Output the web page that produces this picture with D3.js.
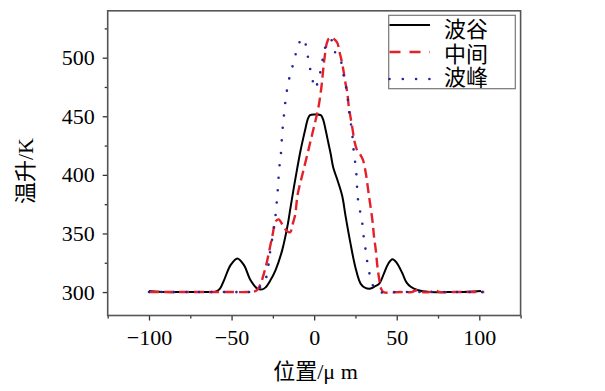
<!DOCTYPE html>
<html><head><meta charset="utf-8">
<script src="https://cdn.jsdelivr.net/npm/d3@7"></script>
<style>body{margin:0;background:#fff}svg{display:block}</style>
</head><body>
<svg id="c" width="605" height="391"></svg>
<script>
const seriesNames = ["波谷", "中间", "波峰"];
const xMajorTicks = [-100, -50, 0, 50, 100];
const xMinorTicks = [-125, -75, -25, 25, 75, 125];
const yMajorTicks = [300, 350, 400, 450, 500];
const yMinorTicks = [325, 375, 425, 475, 525];

const valleyX = [-100,-90,-80,-70,-62,-59.7,-57,-54.6,-50.6,-46.5,-42.5,-38.5,-34.4,-31.4,-29.4,-26.5,-23.3,-19.3,-16.2,-14.2,-12.2,-10.2,-8.2,-6.5,-5.5,-4,-2.5,0.7,4,5.5,7,8.5,10,11.6,14,17,19,22,25,28.2,31,34.2,37,39.3,42.3,44.8,47.4,50,53.4,56,58.5,62.5,70,80,90,97,101];
const valleyY = [301,300,300,300,300,300.3,303,310,323,328.7,323,310,303,302.3,304,310,319,336,356,373,390,406,421,432,438,447,451,451.5,451,447,438,428,418,406,396,382,365,341.5,321,307,303.5,303,305,307,316,324,328,325,316,308,304.5,301.7,300,300,300,300.5,301];

const middleX = [-100,-90,-80,-70,-60,-50,-40,-36,-34.4,-32.4,-30.4,-28.4,-26.5,-25,-23.5,-21.5,-19,-16.5,-14.5,-13,-11.5,-10,-7,-4,-2,-0.1,2.5,4.4,5.5,6.5,7.6,9,10.5,12,14,15.5,17,19,20,21,22,23.2,24.5,26,28,29.5,31.2,33.2,35.3,36.2,37.3,38.3,39.5,40.5,42,52,59,62,65,70,73,76,85,95,103];
const middleY = [300,300,300,300,300,300,300,300.5,302,307,316,327,340,350,360,362,357,352,351,358,366,383,401,418,430,441,457,475,490,502,512,516.5,517,516,512.7,504,495,478,470.8,458,449.5,439.5,428,421,417,413,402,382,361,348,336,322,310,303,300,300,300,301.5,300,300,301.5,300,300,300,300];

const peakX = [-100,-90,-80,-70,-60,-50,-40,-36,-34.4,-32.4,-30.4,-28.4,-27.4,-26.4,-25,-23.8,-22.9,-22.3,-21.7,-21.3,-20.3,-19.3,-18.5,-17.7,-16.7,-15.3,-13.2,-11.2,-8.2,-6.5,-4.5,-3.2,-1.5,0.5,2.9,4.5,5.9,7.5,9.5,11,12.6,14.5,16.7,18,19.7,20.7,21.5,22.7,23.5,24.1,25.2,25.8,26.2,27.2,28.8,29.6,30.8,31.8,33.2,34.2,36.8,39,45,55,65,75,85,95,103];
const peakY = [300,300,300,300,300,300,300,300.5,302,304.5,307.4,316,326,337,348.6,360,372.7,382.7,392.7,404,415,436,448,459,470,481,492,503,514.8,516.5,507,495.5,485,473.6,482.7,493.5,504,512,516,514,505,499,495,483.5,472,461,450,439.5,428,418,406.8,395.5,384,372.7,362.8,351.4,340,328.7,318.8,310,303,300,300,300,300,300,300,300,300];

const svg = d3.select("#c");
const L = 107.7, R = 520.6, T = 10.8, B = 315.5;
const x = d3.scaleLinear().domain([-125, 125]).range([L, R]);
const y = d3.scaleLinear().domain([280, 540]).range([B, T]);
const serif = "'Liberation Serif','Times New Roman',serif";
const cjk = "'Liberation Serif','Noto Sans CJK SC',serif";

function styleAxis(g){ g.select(".domain").remove(); g.selectAll("line").attr("stroke","#333").attr("stroke-width",1.3);
  g.selectAll("text").attr("font-family",serif).attr("font-size",22).attr("fill","#000"); }
svg.append("g").attr("transform",`translate(0,${B})`)
  .call(d3.axisBottom(x).tickValues(xMajorTicks).tickSize(5).tickSizeOuter(0).tickPadding(9)
    .tickFormat(d => d < 0 ? "\u2212" + Math.abs(d) : d)).call(styleAxis);
svg.append("g").attr("transform",`translate(0,${B})`)
  .call(d3.axisBottom(x).tickValues(xMinorTicks).tickSize(3).tickSizeOuter(0).tickFormat("")).call(styleAxis);
svg.append("g").attr("transform",`translate(${L},0)`)
  .call(d3.axisLeft(y).tickValues(yMajorTicks).tickSize(5).tickSizeOuter(0).tickPadding(8)).call(styleAxis);
svg.append("g").attr("transform",`translate(${L},0)`)
  .call(d3.axisLeft(y).tickValues(yMinorTicks).tickSize(3).tickSizeOuter(0).tickFormat("")).call(styleAxis);

svg.append("rect").attr("x",L).attr("y",T).attr("width",R-L).attr("height",B-T)
  .attr("fill","none").attr("stroke","#555").attr("stroke-width",1.6);

const line = d3.line().x(d => x(d[0])).y(d => y(d[1])).curve(d3.curveCatmullRom.alpha(0.5));
const styles = [
  {xs: valleyX, ys: valleyY, color: "#000000", w: 2, dash: null, cap: "butt"},
  {xs: middleX, ys: middleY, color: "#e3212b", w: 2.4, dash: "10,5", cap: "butt"},
  {xs: peakX, ys: peakY, color: "#24249c", w: 2.6, dash: "0,12.5", cap: "round"}
];
styles.forEach(s => {
  const pts = s.xs.map((v,i) => [v, s.ys[i]]);
  const p = svg.append("path").attr("d", line(pts)).attr("fill","none")
    .attr("stroke", s.color).attr("stroke-width", s.w).attr("stroke-linecap", s.cap).attr("stroke-linejoin","round");
  if (s.dash) p.attr("stroke-dasharray", s.dash);
});

const lg = svg.append("g");
lg.append("rect").attr("x",388.7).attr("y",15.3).attr("width",126.6).attr("height",73.4)
  .attr("fill","#fff").attr("stroke","#777").attr("stroke-width",1.2);
const rowsLine = [25, 52, 79], rowsText = [29, 54, 77];
styles.forEach((s,i) => {
  const l = lg.append("line").attr("x1",389.5).attr("x2",430).attr("y1",rowsLine[i]).attr("y2",rowsLine[i])
    .attr("stroke",s.color).attr("stroke-width",s.w).attr("stroke-linecap",s.cap);
  if (s.dash) l.attr("stroke-dasharray", i===1 ? "11,9" : "0,13.3");
  lg.append("text").attr("x",444).attr("y",rowsText[i]).attr("dominant-baseline","central")
    .attr("font-family",cjk).attr("font-size",22).attr("fill","#000").text(seriesNames[i]);
});

svg.append("text").attr("x",315.5).attr("y",371).attr("text-anchor","middle").attr("dominant-baseline","central")
  .attr("font-family",cjk).attr("font-size",22).attr("fill","#000").text("位置/μ m");
svg.append("text").attr("transform","translate(25,171) rotate(-90)").attr("text-anchor","middle")
  .attr("dominant-baseline","central").attr("font-family",cjk).attr("font-size",22).attr("fill","#000").text("温升/K");
</script>
</body></html>
